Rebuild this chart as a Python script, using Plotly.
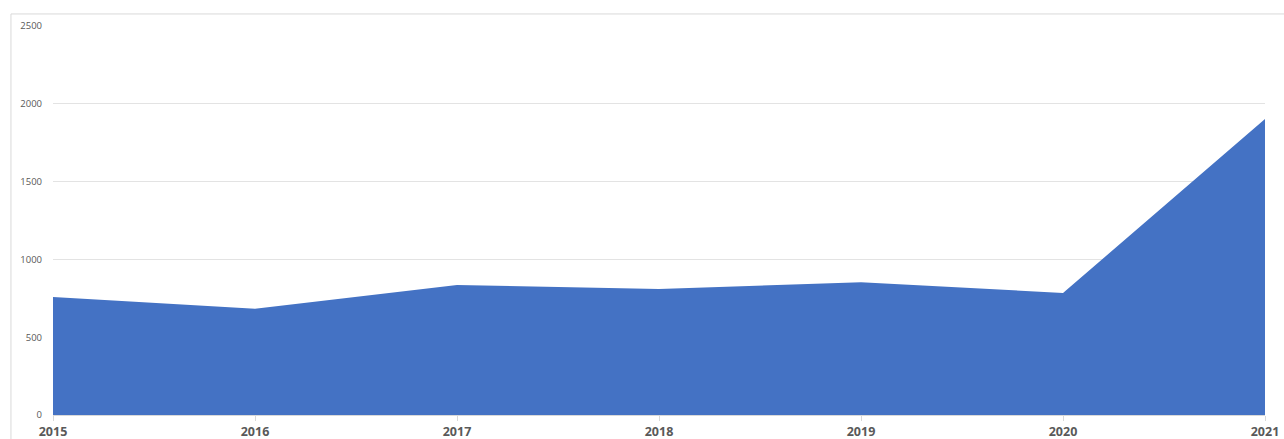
import plotly.graph_objects as go

years = [2015, 2016, 2017, 2018, 2019, 2020, 2021]
values = [758, 683, 835, 810, 853, 784, 1902]
y_ticks = [0, 500, 1000, 1500, 2000, 2500]

_AREA = "#4472C4"
_GRID = "#E3E3E3"
_TEXT = "#595959"

fig = go.Figure()
fig.add_trace(go.Scatter(
    x=years,
    y=values,
    fill="tozeroy",
    mode="lines",
    line=dict(width=0, color=_AREA),
    fillcolor=_AREA,
    hoverinfo="x+y",
))

# light chart-area border, partly cut off at right and bottom
fig.add_shape(
    type="rect", xref="paper", yref="paper",
    x0=-0.0347, x1=1.05, y0=-0.2, y1=1.031,
    line=dict(color="#D9D9D9", width=1),
    fillcolor="rgba(0,0,0,0)", layer="below",
)

fig.update_layout(
    width=1284,
    height=439,
    paper_bgcolor="#FFFFFF",
    plot_bgcolor="#FFFFFF",
    # fixed margins: tick labels may hang over the edges, as in the original
    margin=dict(l=53, r=19, t=26, b=24, autoexpand=False),
    showlegend=False,
    font=dict(family="Open Sans, DejaVu Sans, sans-serif", color=_TEXT),
    xaxis=dict(
        range=[2015, 2021],
        tickvals=years,
        ticktext=[f"<b>{y}</b>" for y in years],
        tickfont=dict(size=12.5, color=_TEXT),
        showgrid=False,
        zeroline=False,
        showline=True,
        linecolor="#D9D9D9",
        ticks="outside",
        ticklen=5,
        tickcolor="#D9D9D9",
        automargin=False,
    ),
    yaxis=dict(
        range=[0, 2500],
        tickvals=y_ticks,
        tickfont=dict(size=9.5, color=_TEXT),
        gridcolor=_GRID,
        zeroline=False,
        showline=False,
        ticks="",
        ticklabelstandoff=10,
        automargin=False,
    ),
)

# no body margin and no scrollbars, so the figure sits exactly in the window
page_css = (
    "document.documentElement.style.overflow='hidden';"
    "document.body.style.overflow='hidden';"
    "document.body.style.margin='0';"
)
fig.write_html("out.html", config={"displayModeBar": False}, post_script=page_css)
